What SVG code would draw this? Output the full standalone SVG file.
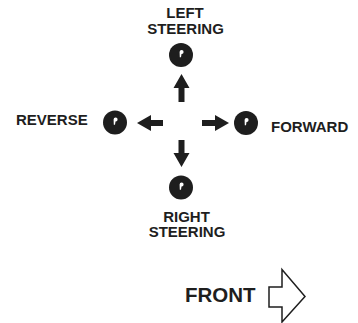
<svg xmlns="http://www.w3.org/2000/svg" xmlns:xlink="http://www.w3.org/1999/xlink" width="358" height="323" viewBox="0 0 358 323">
<style>
.lbl{font-family:"Liberation Sans",Arial,sans-serif;font-weight:bold;font-size:15px;fill:#1e1e1e}
.dot{fill:#1e1e1e}
.hole{fill:#fff}
.arr{fill:#1e1e1e}
</style>
<defs>
<g id="pivot">
<circle class="dot" cx="0" cy="0" r="12"/>
<path class="hole" d="M-1.4,-3 a2,2 0 1 1 1.9,2 l-0.5,3.2 h-1.2 z"/>
</g>
</defs>
<rect width="358" height="323" fill="#fff"/>
<g id="left-steering">
<use xlink:href="#pivot" x="181" y="55"/>
<text class="lbl" x="185" y="18" text-anchor="middle">LEFT</text>
<text class="lbl" x="185.5" y="34" text-anchor="middle">STEERING</text>
</g>
<g id="reverse">
<use xlink:href="#pivot" x="115" y="122.5"/>
<text class="lbl" x="16" y="124.5">REVERSE</text>
</g>
<g id="forward">
<use xlink:href="#pivot" x="246" y="123"/>
<text class="lbl" x="271" y="131.5">FORWARD</text>
</g>
<g id="right-steering">
<use xlink:href="#pivot" x="181" y="187.5"/>
<text class="lbl" x="186.5" y="221.5" text-anchor="middle">RIGHT</text>
<text class="lbl" x="187" y="237" text-anchor="middle">STEERING</text>
</g>
<g id="connectors">
<path class="arr" d="M181.5,74 L189.5,88 L184.5,88 L184.5,102 L178.5,102 L178.5,88 L173.5,88 Z"/>
<path class="arr" d="M181.5,167 L189.5,153 L184.5,153 L184.5,140 L178.5,140 L178.5,153 L173.5,153 Z"/>
<path class="arr" d="M137,123 L151,115 L151,120 L163,120 L163,126 L151,126 L151,131 Z"/>
<path class="arr" d="M229,123 L215,115 L215,120 L202,120 L202,126 L215,126 L215,131 Z"/>
</g>
<g id="front">
<text class="lbl" x="185" y="301.5" style="font-size:20.5px">FRONT</text>
<path d="M269,287 L282,287 L282,269.5 L305,296.5 L282,322 L282,307 L269,307 Z" fill="#fff" stroke="#1e1e1e" stroke-width="1.5" stroke-linejoin="miter"/>
</g>
</svg>
